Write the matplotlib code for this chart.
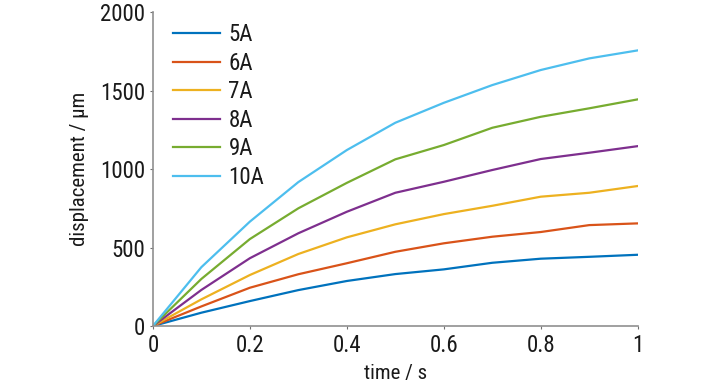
import matplotlib
matplotlib.use("Agg")
import matplotlib.pyplot as plt

t = [0, 0.1, 0.2, 0.3, 0.4, 0.5, 0.6, 0.7, 0.8, 0.9, 1.0]
labels = ["5A", "6A", "7A", "8A", "9A", "10A"]
d5 = [0, 85, 159, 229, 287, 331, 361, 403, 429, 441, 454]
d6 = [0, 125, 244, 330, 400, 473, 527, 569, 599, 643, 654]
d7 = [0, 170, 325, 459, 565, 648, 713, 766, 824, 849, 892]
d8 = [0, 230, 432, 591, 728, 849, 919, 994, 1064, 1104, 1146]
d9 = [0, 300, 554, 750, 912, 1062, 1153, 1263, 1333, 1387, 1444]
d10 = [0, 375, 665, 917, 1121, 1295, 1422, 1535, 1631, 1705, 1756]
series = [d5, d6, d7, d8, d9, d10]
colors = ["#0072BD", "#D95319", "#EDB120", "#7E2F8E", "#77AC30", "#4DBEEE"]
xticks = [0, 0.2, 0.4, 0.6, 0.8, 1]
xticklabels = ["0", "0.2", "0.4", "0.6", "0.8", "1"]
yticks = [0, 500, 1000, 1500, 2000]
yticklabels = ["0", "500", "1000", "1500", "2000"]

plt.rcParams["font.family"] = ["Roboto Condensed", "DejaVu Sans"]

fig = plt.figure(figsize=(7.28, 3.90), dpi=100)
ax = fig.add_axes([0.210, 0.164, 0.666, 0.805])
for s, c, l in zip(series, colors, labels):
    ax.plot(t, s, color=c, lw=1.6, label=l)

ax.set_xlim(0, 1)
ax.set_ylim(0, 2000)
ax.set_xticks(xticks)
ax.set_xticklabels(xticklabels)
ax.set_yticks(yticks)
ax.set_yticklabels(yticklabels)
for sp in ["top", "right"]:
    ax.spines[sp].set_visible(False)
for sp in ["left", "bottom"]:
    ax.spines[sp].set_color("#909090")
    ax.spines[sp].set_linewidth(1.2)
ax.tick_params(direction="out", length=2.5, color="#707070", labelsize=16.5,
               pad=3, labelcolor="#1a1a1a")
ax.set_xlabel("time / s", fontsize=15, labelpad=5, color="#1a1a1a")
ax.set_ylabel("displacement / µm", fontsize=15, labelpad=8, color="#1a1a1a")
leg = ax.legend(loc="upper left", frameon=False, fontsize=16.5, handlelength=2.05,
                handletextpad=0.38, labelspacing=0.24, borderpad=0, borderaxespad=0,
                bbox_to_anchor=(0.041, 0.965))
for txt in leg.get_texts():
    txt.set_color("#1a1a1a")
fig.savefig("out.png", dpi=100)
